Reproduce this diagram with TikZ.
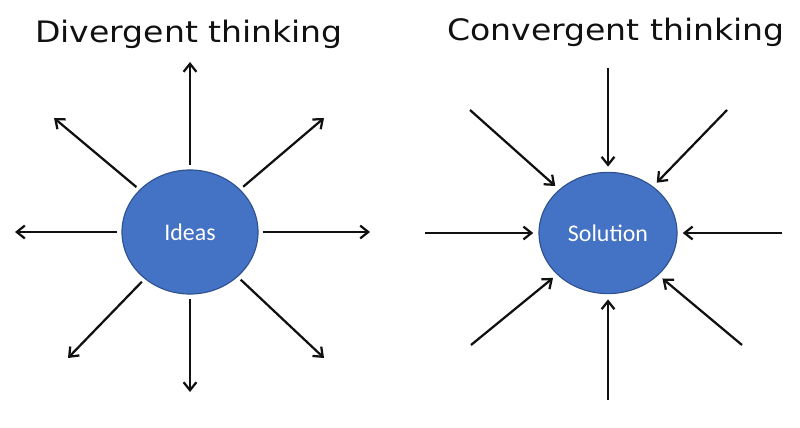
\documentclass[tikz,border=0pt]{standalone}
\usepackage{fontspec}
\setmainfont{DejaVu Sans}
\newfontfamily\headfont[FakeStretch=1.12]{DejaVu Sans}
\newfontfamily\bodyfont{Carlito}
\usetikzlibrary{arrows.meta,shapes.geometric}
\definecolor{ink}{HTML}{111111}
\definecolor{bubble}{HTML}{4472C4}
\definecolor{rim}{HTML}{2F528F}

\begin{document}
\begin{tikzpicture}[x=0.025cm, y=-0.025cm, ink,
    head/.style={font=\headfont\fontsize{21}{24}\selectfont, anchor=base, inner sep=0pt},
    hub/.style={ellipse, draw=rim, line width=0.8pt, fill=bubble, text=white, inner sep=0pt, font=\bodyfont\fontsize{17}{20}\selectfont},
    flow/.style={-{Straight Barb[length=2mm, width=3.2mm]}, line width=1.6pt, draw=ink},
  ]
% --- Frame -------------------------------------------------------------------------
\useasboundingbox (0,0) rectangle (800,427);

% --- Headings ----------------------------------------------------------------------
\node[head] (divhead) at (189,43) {Divergent thinking};
\node[head] (convhead) at (616,41) {Convergent thinking};

% --- Hubs --------------------------------------------------------------------------
\node[hub, minimum width=3.4cm, minimum height=3.1cm] (ideas) at (190,232) {Ideas};
\node[hub, minimum width=3.45cm, minimum height=3.03cm] (solution) at (608,233) {Solution};

% --- Outward ends (divergent) --------------------------------------------------------
\foreach \n/\x/\y in {n/190/62, ne/324/118, e/370/232, se/324/358, s/190/392, sw/68/358, w/15/232, nw/54/118}
  \coordinate (d\n) at (\x,\y);

% --- Inward ends (convergent) --------------------------------------------------------
\foreach \n/\x/\y in {n/608/68, ne/727/110, e/782/233, se/742/345, s/608/400, sw/471/345, w/425/233, nw/470/110}
  \coordinate (c\n) at (\x,\y);

% --- Flow ----------------------------------------------------------------------------
\foreach \n in {n,ne,e,se,s,sw,w,nw}
  \draw[flow, shorten <=0.1cm] (ideas) -- (d\n);
\foreach \n in {n,ne,e,se,s,sw,w,nw}
  \draw[flow, shorten >=0.13cm] (c\n) -- (solution);
\end{tikzpicture}
\end{document}
